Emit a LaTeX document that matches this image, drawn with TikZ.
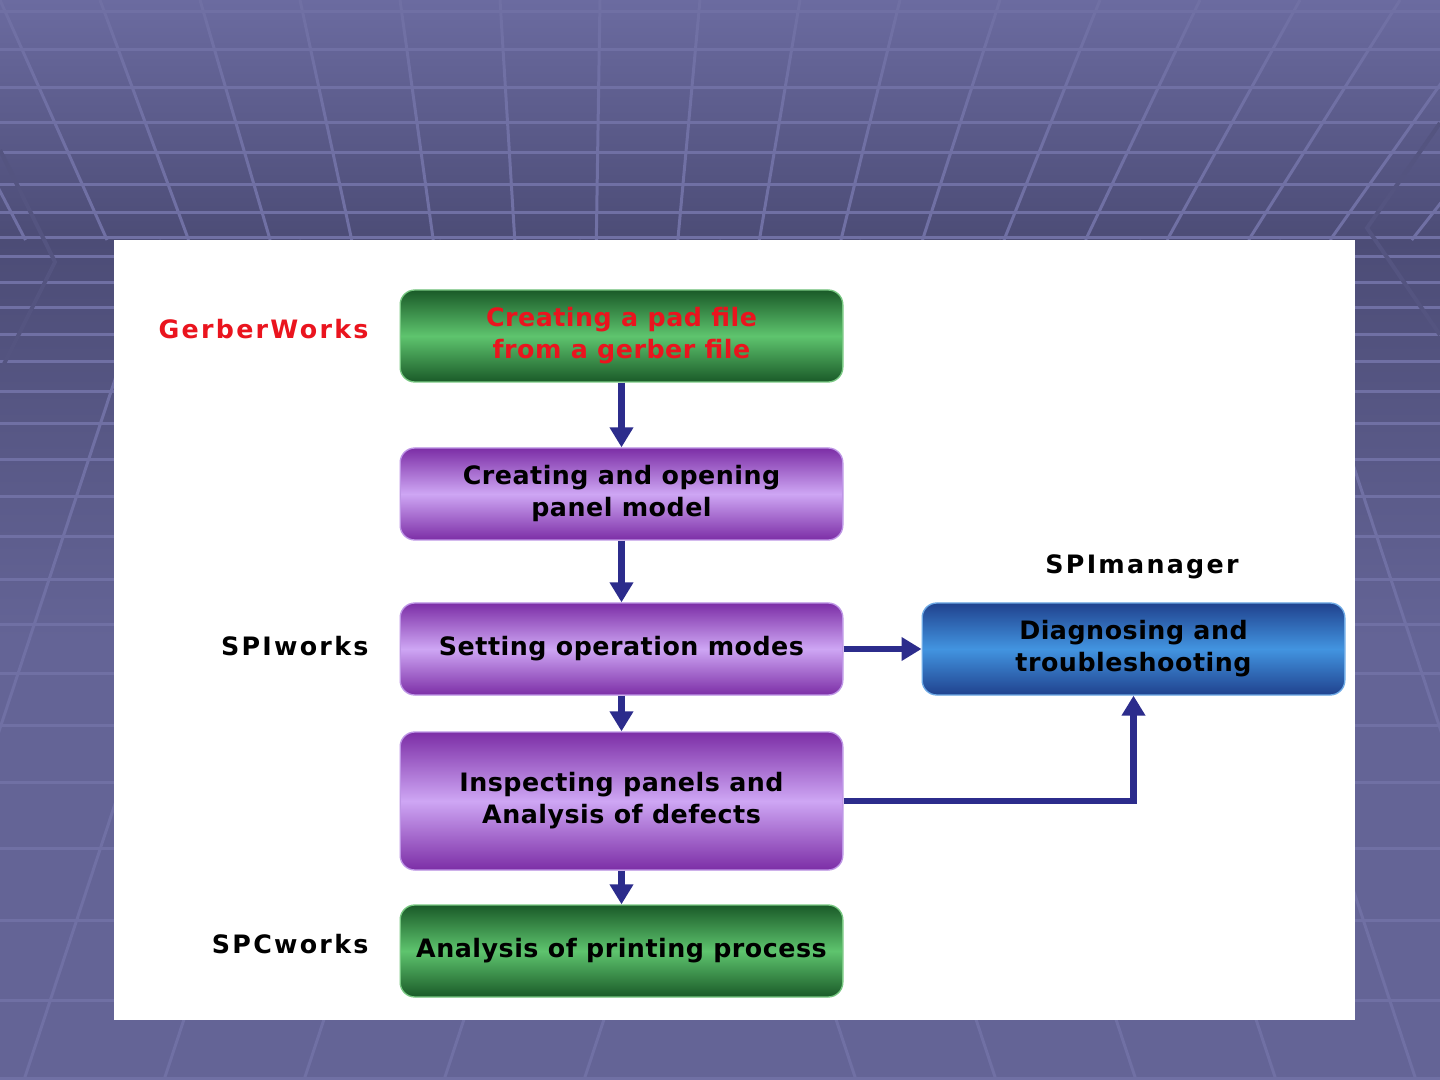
\documentclass[tikz,border=0pt]{standalone}
\usepackage{fontspec}
\setmainfont{DejaVu Sans}
\newfontfamily\labelfont{DejaVu Sans}[LetterSpace=9]
\newfontfamily\boxfont{DejaVu Sans}[LetterSpace=2]
\usetikzlibrary{arrows.meta,shadings}

\definecolor{bgtop}{RGB}{107,107,160}
\definecolor{bgdeep}{RGB}{76,76,118}
\definecolor{bgwall}{RGB}{100,100,150}
\definecolor{bgline}{RGB}{112,112,164}
\definecolor{bgedge}{RGB}{84,84,128}
\definecolor{grdark}{RGB}{26,90,40}
\definecolor{grmid}{RGB}{94,196,110}
\definecolor{grrim}{RGB}{120,200,130}
\definecolor{pudark}{RGB}{124,46,166}
\definecolor{pumid}{RGB}{206,166,244}
\definecolor{purim}{RGB}{190,150,230}
\definecolor{bldark}{RGB}{32,66,142}
\definecolor{blmid}{RGB}{66,148,224}
\definecolor{blrim}{RGB}{110,170,230}
\definecolor{flowblue}{RGB}{44,44,140}
\definecolor{labelred}{RGB}{234,20,30}

\tikzset{every picture/.style={line width=0.75pt}}
\tikzset{
  stepbox/.style={rounded corners=11pt, minimum width=332pt, minimum height=69pt,
    inner sep=0pt, align=center, line width=1pt,
    font=\boxfont\fontsize{19}{24}\selectfont\bfseries},
  greenbox/.style={stepbox, draw=grrim, top color=grdark, bottom color=grdark, middle color=grmid},
  purplebox/.style={stepbox, draw=purim, top color=pudark, bottom color=pudark, middle color=pumid},
  bluebox/.style={stepbox, draw=blrim, top color=bldark, bottom color=bldark, middle color=blmid},
  toollabel/.style={font=\labelfont\fontsize{19}{24}\selectfont\bfseries, inner sep=0pt},
  flow/.style={draw=flowblue, line width=5pt, -{Triangle[width=17pt,length=15pt]}},
  gridline/.style={draw=bgline, line width=2.25pt},
}

\begin{document}
\begin{tikzpicture}[x=0.75pt,y=0.75pt,yscale=-1,xscale=1]
	\useasboundingbox (0,0) rectangle (1440,1080);

	%Shape: Background
	\fill [bgwall] (0,0) rectangle (1440,1080);
	\shade [top color=bgtop, bottom color=bgdeep] (0,0) rectangle (1440,240);
	\shade [top color=bgdeep, bottom color=bgwall] (0,240) rectangle (1440,640);
	%Straight Lines: ceiling grid
	\foreach \y in {12,50,88,123,153,185,213,238}
		\draw [gridline] (0,\y) -- (1440,\y);
	\foreach \x in {-200,-100,...,1800}
		\draw [gridline] (\x,0) -- ({\x+(580-\x)*0.1846},240);
	%Straight Lines: floor grid
	\foreach \y in {257,283,308,335,362,392,424,460,497,537,580,625,673,725,782,848,920,1000,1078}
		\draw [gridline] (0,\y) -- (1440,\y);
	\begin{scope}
		\clip (0,240) rectangle (720,1080);
		\foreach \c in {240,380,...,1400}
			\draw [gridline] ({\c-79},240) -- ({\c-356},1080);
	\end{scope}
	\begin{scope}
		\clip (720,240) rectangle (1440,1080);
		\foreach \c in {240,380,...,1400}
			\draw [gridline] ({1519-\c},240) -- ({1796-\c},1080);
	\end{scope}
	\draw [bgedge, line width=3pt] (0,150) -- (55,262) -- (0,372);
	\draw [bgedge, line width=3pt] (1440,123) -- (1367,228) -- (1440,335);

	%Shape: Rectangle (white panel)
	\fill [white] (114,240) rectangle (1355,1020);

	% Step boxes
	\node [greenbox, text=labelred] (padfile) at (621.5,336) {Creating a pad file\\from a gerber file};
	\node [purplebox] (panelmodel) at (621.5,494) {Creating and opening\\panel model};
	\node [purplebox] (opmodes) at (621.5,649) {Setting operation modes};
	\node [purplebox, minimum height=103.5pt] (inspect) at (621.5,801) {Inspecting panels and\\Analysis of defects};
	\node [greenbox] (printing) at (621.5,951) {Analysis of printing process};
	\node [bluebox, minimum width=317pt] (diagnose) at (1133.5,649) {Diagnosing and\\troubleshooting};

	% Text Node
	\node [toollabel, text=labelred, anchor=east] (gerberworks) at (369,329) {GerberWorks};
	\node [toollabel, anchor=east] (spiworks) at (369,646) {SPIworks};
	\node [toollabel, anchor=east] (spcworks) at (369,944) {SPCworks};
	\node [toollabel] (spimanager) at (1142,567) {SPImanager};

	%Straight Lines
	\draw [flow] (padfile) -- (panelmodel);
	\draw [flow] (panelmodel) -- (opmodes);
	\draw [flow] (opmodes) -- (inspect);
	\draw [flow] (inspect) -- (printing);
	\draw [flow] (opmodes) -- (diagnose);
	\draw [flow] (inspect) -| (diagnose);

\end{tikzpicture}
\end{document}
